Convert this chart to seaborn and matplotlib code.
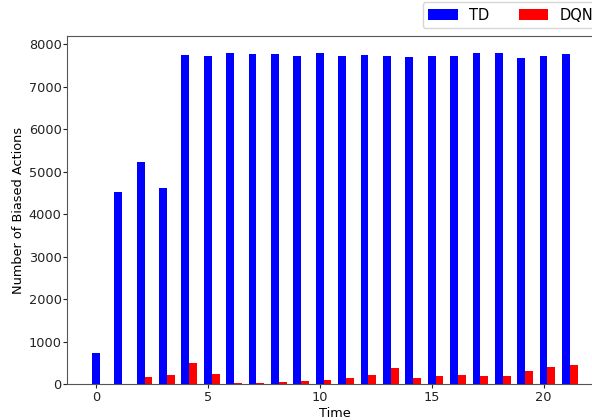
import numpy as np
import pandas as pd
import matplotlib
matplotlib.use("Agg")
import matplotlib.pyplot as plt
import seaborn as sns

time = list(range(22))
td_values = [740, 4530, 5220, 4620, 7750, 7730, 7780, 7760, 7760, 7730, 7780, 7710,
             7750, 7730, 7690, 7730, 7730, 7790, 7790, 7670, 7710, 7760]
dqn_values = [0, 0, 170, 210, 490, 230, 20, 30, 50, 70, 100, 130,
              210, 370, 140, 180, 210, 190, 190, 300, 400, 440]
series_names = ["TD", "DQN"]
bar_width = 0.35

plt.rcParams['font.family'] = ['DejaVu Sans']
plt.rcParams['font.size'] = 9.3

fig = plt.figure(figsize=(5.92, 4.2), dpi=100)
ax = fig.add_axes([67/592, 36/420, (602-67)/592, (384-36)/420])

t = np.array(time, dtype=float)
df_td = pd.DataFrame({"Time": t, "value": td_values})
df_dqn = pd.DataFrame({"Time": t + bar_width, "value": dqn_values})

sns.barplot(data=df_td, x="Time", y="value", native_scale=True, width=bar_width,
            color="blue", saturation=1, label=series_names[0], ax=ax, errorbar=None)
sns.barplot(data=df_dqn, x="Time", y="value", native_scale=True, width=bar_width,
            color="red", saturation=1, label=series_names[1], ax=ax, errorbar=None)

ax.set_xlim(-1.29, 22.61)
ax.set_ylim(0, 8190)
ax.set_xticks([0, 5, 10, 15, 20])
ax.set_xticklabels(["0", "5", "10", "15", "20"])
ax.set_yticks(range(0, 8001, 1000))
ax.set_xlabel("Time", fontsize=9.3, labelpad=2.4)
ax.set_ylabel("Number of Biased Actions", fontsize=9.3, labelpad=3)
for s in ax.spines.values():
    s.set_color("#555555")
ax.tick_params(colors="#222222", length=3, labelsize=9.3)
ax.tick_params(axis="x", pad=1.7)
ax.tick_params(axis="y", pad=0.8)
if ax.get_legend() is not None:
    ax.get_legend().remove()

h, l = ax.get_legend_handles_labels()
fig.legend(h, l, loc="upper left", bbox_to_anchor=(422.5/592, 1 - 1.7/420), ncol=2,
           fontsize=10.5, columnspacing=2.0, handlelength=2.0, frameon=True,
           borderaxespad=0)

fig.savefig("out.png", dpi=100)
